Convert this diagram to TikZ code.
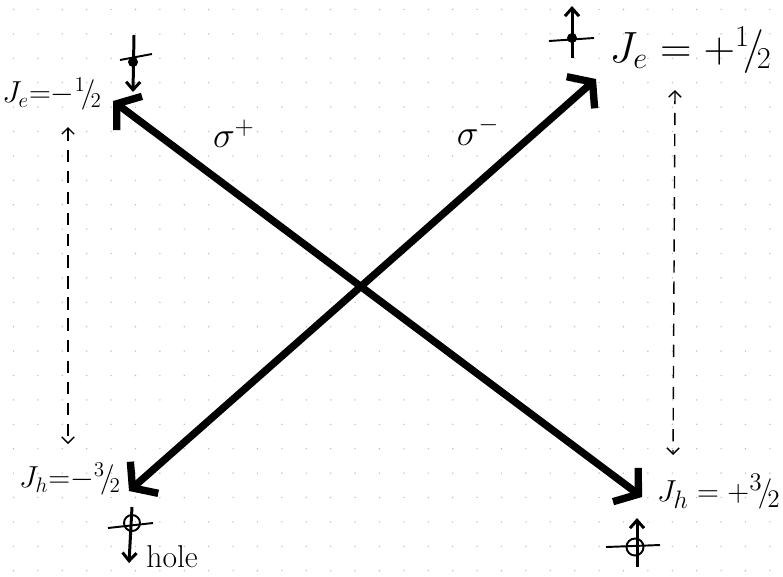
\documentclass[tikz,border=0pt]{standalone}
\usetikzlibrary{arrows.meta}
\newcommand{\hfr}[2]{{}^{#1}\!/\!{}_{#2}}
\begin{document}
\begin{tikzpicture}[x=0.02cm, y=-0.02cm,
  trans/.style={line width=4.2pt, line cap=round, {Straight Barb[length=9pt,width=24pt]}-{Straight Barb[length=9pt,width=24pt]}},
  spin/.style={line width=1.7pt, -{Straight Barb[length=4.5pt,width=8pt]}},
  tick/.style={line width=1.1pt},
  level/.style={dashed, dash pattern=on 7pt off 5pt, line width=0.8pt, {Straight Barb[length=3.5pt,width=7pt]}-{Straight Barb[length=3.5pt,width=7pt]}},
  lab/.style={inner sep=0pt}]
  \useasboundingbox (0,0) rectangle (783,576);
  \fill[white] (0,0) rectangle (783,576);
  % dotted paper
  \foreach \i in {0,...,31}
    \foreach \j in {0,...,23}
      \fill[gray!50] (13.5+24.4*\i, 9.5+24.4*\j) circle (0.8);

  % ends of the transitions
  \coordinate (eDown) at (113,101);
  \coordinate (eUp)   at (596,79);
  \coordinate (hDown) at (129,491);
  \coordinate (hUp)   at (642,497);

  % state labels
  \node[lab, font=\fontsize{18}{22}\selectfont] (JeDown) at (52,94) {$J_e{=}{-}\hfr12$};
  \node[lab, font=\fontsize{24}{28}\selectfont, anchor=east] (JeUp) at (772,50) {$J_e = +\hfr12$};
  \node[lab, font=\fontsize{18}{22}\selectfont] (JhDown) at (70,479) {$J_h{=}{-}\hfr32$};
  \node[lab, font=\fontsize{19}{22}\selectfont, anchor=east] (JhUp) at (781,492) {$J_h = +\hfr32$};

  % optical transitions
  \draw[trans] (eDown) -- (hUp);
  \draw[trans] (hDown) -- (eUp);
  \node[lab, font=\fontsize{22}{24}\selectfont] (sigP) at (234,134) {$\sigma^+$};
  \node[lab, font=\fontsize{22}{24}\selectfont] (sigM) at (478,131) {$\sigma^-$};

  % level pairs
  \coordinate (lTop) at (68,127);
  \coordinate (lBot) at (68,444);
  \coordinate (rTop) at (675,90);
  \coordinate (rBot) at (673,455);
  \draw[level] (lTop) -- (lBot);
  \draw[level] (rTop) -- (rBot);

  % electron, spin down
  \draw[tick] (120,60) -- (152,54);
  \draw[spin] (134,35) -- (133,92);
  \fill (133,62) circle (5);
  % electron, spin up
  \draw[tick] (549,41) -- (594,38);
  \draw[spin] (572,58) -- (572,6);
  \fill (572,38) circle (5);
  % hole, spin down
  \draw[tick] (108,528) -- (153,523);
  \draw[line width=1.1pt] (132,523) circle (8);
  \draw[spin] (132,507) -- (129,563);
  \node[lab, font=\fontsize{18}{20}\selectfont, anchor=west] (hole) at (146,557) {hole};
  % hole, spin up
  \draw[tick] (606,547) -- (660,545);
  \draw[line width=1.1pt] (635,547) circle (8.5);
  \draw[spin] (637,567) -- (637,518);
\end{tikzpicture}
\end{document}
